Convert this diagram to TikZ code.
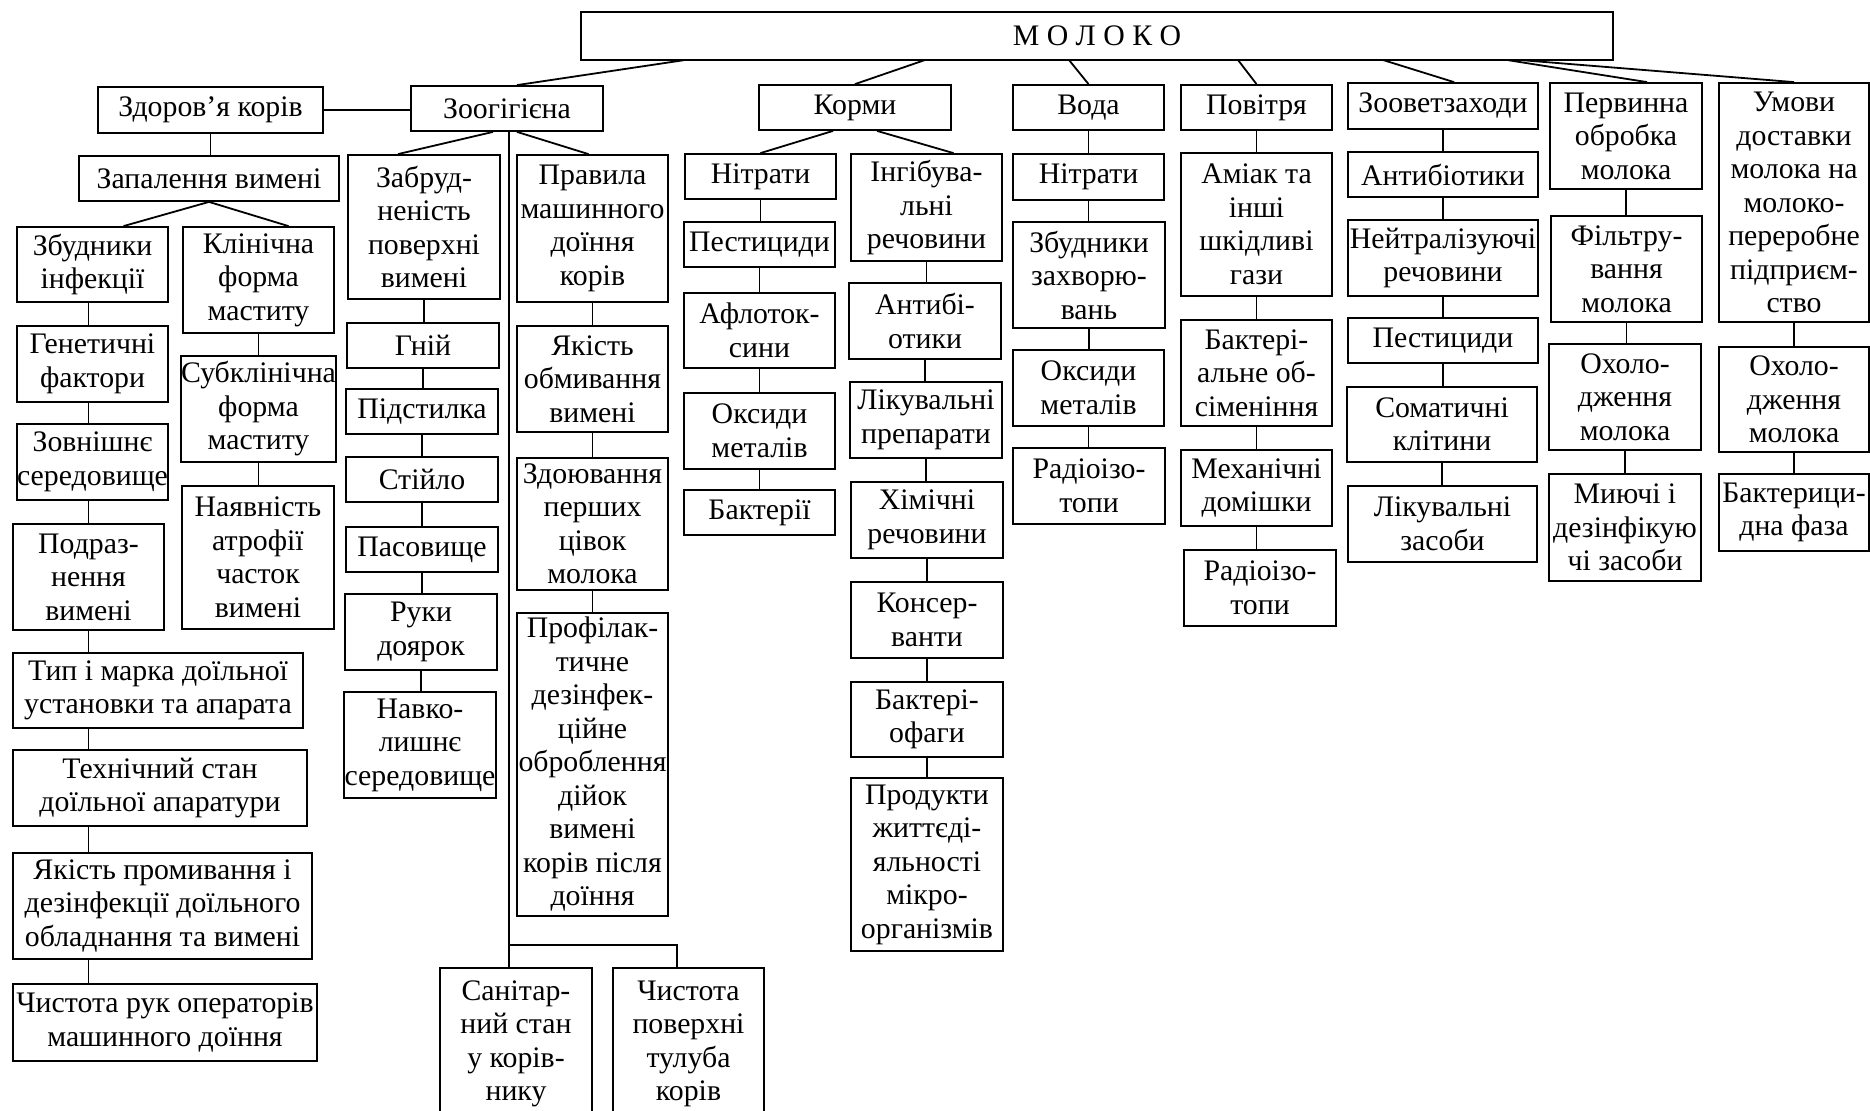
\documentclass[tikz,border=0pt]{standalone}
\usepackage{fontspec}
\setmainfont{Liberation Serif}
\usetikzlibrary{calc}

\tikzset{
  box/.style={draw, line width=0.9pt, align=center, inner sep=0pt,
    font=\fontsize{14.9}{16.75}\selectfont},
  link/.style={line width=0.9pt}
}
% box from its corners: name, x1, y1, x2, y2, text
\newcommand{\bx}[6]{\node[box, minimum width={(#4-#2)*0.5pt}, minimum height={(#5-#3)*0.5pt}] (#1) at ({(#2+#4)/2},{(#3+#5)/2}) {#6};}

\begin{document}
\begin{tikzpicture}[x=0.5pt, y=-0.5pt]
   \useasboundingbox (0,0) rectangle (1870,1110);
   % Root
   \bx{moloko}{581}{12}{1613}{60}{М О Л О К О}
   % First level
   \bx{zdorov}{98}{87}{323}{133}{Здоров’я корів}
   \bx{zoo}{411}{86}{603}{131}{Зоогігієна}
   \bx{kormy}{759}{85}{951}{130}{Корми}
   \bx{voda}{1013}{85}{1164}{130}{Вода}
   \bx{povitria}{1181}{85}{1332}{130}{Повітря}
   \bx{zoovet}{1348}{83}{1538}{129}{Зооветзаходи}
   \bx{pervyn}{1550}{83}{1702}{189}{Первинна\\обробка\\молока}
   \bx{umovy}{1719}{83}{1869}{322}{Умови\\доставки\\молока на\\молоко-\\переробне\\підприєм-\\ство}
   % Cows health
   \bx{zapal}{79}{156}{339}{201}{Запалення вимені}
   \bx{zbud}{17}{227}{168}{302}{Збудники\\інфекції}
   \bx{genet}{17}{326}{168}{402}{Генетичні\\фактори}
   \bx{zovn}{17}{424}{168}{500}{Зовнішнє\\середовище}
   \bx{podraz}{13}{524}{164}{630}{Подраз-\\нення\\вимені}
   \bx{typ}{13}{653}{303}{728}{Тип і марка доїльної\\установки та апарата}
   \bx{tekhn}{13}{750}{307}{826}{Технічний стан\\доїльної апаратури}
   \bx{yakprom}{13}{853}{312}{959}{Якість промивання і\\дезінфекції доїльного\\обладнання та вимені}
   \bx{chyst}{13}{984}{317}{1061}{Чистота рук операторів\\машинного доїння}
   \bx{klin}{183}{227}{334}{333}{Клінічна\\форма\\маститу}
   \bx{subklin}{183}{356}{334}{462}{Субклінічна\\форма\\маститу}
   \bx{nayavn}{182}{486}{334}{629}{Наявність\\атрофії\\часток\\вимені}
   % Zoohygiene
   \bx{zabrud}{348}{155}{500}{299}{Забруд-\\неність\\поверхні\\вимені}
   \bx{hnii}{347}{323}{499}{368}{Гній}
   \bx{pidst}{346}{389}{498}{434}{Підстилка}
   \bx{stiilo}{346}{457}{498}{502}{Стійло}
   \bx{pasov}{346}{527}{498}{572}{Пасовище}
   \bx{ruky}{345}{594}{497}{670}{Руки\\доярок}
   \bx{navk}{344}{692}{496}{798}{Навко-\\лишнє\\середовище}
   \bx{pravyla}{517}{155}{668}{302}{Правила\\машинного\\доїння\\корів}
   \bx{yakobm}{517}{326}{668}{432}{Якість\\обмивання\\вимені}
   \bx{zdoyuv}{517}{458}{668}{590}{Здоювання\\перших\\цівок\\молока}
   \bx{profil}{517}{613}{668}{916}{Профілак-\\тичне\\дезінфек-\\ційне\\оброблення\\дійок\\вимені\\корів після\\доїння}
   \bx{sanit}{440}{968}{592}{1120}{Санітар-\\ний стан\\у корів-\\нику}
   \bx{chystpov}{613}{968}{764}{1120}{Чистота\\поверхні\\тулуба\\корів}
   % Feed
   \bx{nitr1}{685}{154}{836}{199}{Нітрати}
   \bx{pest1}{684}{222}{835}{267}{Пестициди}
   \bx{aflot}{684}{293}{835}{368}{Афлоток-\\сини}
   \bx{oks1}{684}{393}{835}{469}{Оксиди\\металів}
   \bx{bakt1}{684}{490}{835}{535}{Бактерії}
   \bx{ingib}{851}{154}{1002}{261}{Інгібува-\\льні\\речовини}
   \bx{antyb1}{849}{283}{1001}{359}{Антибі-\\отики}
   \bx{likprep}{850}{382}{1002}{458}{Лікувальні\\препарати}
   \bx{khim}{851}{482}{1003}{558}{Хімічні\\речовини}
   \bx{kons}{851}{582}{1003}{658}{Консер-\\ванти}
   \bx{bakterf}{851}{682}{1003}{757}{Бактері-\\офаги}
   \bx{prod}{851}{778}{1003}{951}{Продукти\\життєді-\\яльності\\мікро-\\організмів}
   % Water
   \bx{nitr2}{1013}{154}{1164}{200}{Нітрати}
   \bx{zbudz}{1013}{222}{1165}{328}{Збудники\\захворю-\\вань}
   \bx{oks2}{1013}{350}{1164}{426}{Оксиди\\металів}
   \bx{radio2}{1013}{448}{1165}{524}{Радіоізо-\\топи}
   % Air
   \bx{amiak}{1181}{153}{1332}{296}{Аміак та\\інші\\шкідливі\\гази}
   \bx{bakteral}{1181}{320}{1332}{426}{Бактері-\\альне об-\\сіменіння}
   \bx{mekh}{1181}{450}{1332}{526}{Механічні\\домішки}
   \bx{radio3}{1184}{550}{1336}{626}{Радіоізо-\\топи}
   % Vet measures
   \bx{antyb2}{1348}{152}{1538}{197}{Антибіотики}
   \bx{neitr}{1348}{220}{1538}{296}{Нейтралізуючі\\речовини}
   \bx{pest2}{1348}{318}{1538}{363}{Пестициди}
   \bx{somat}{1347}{387}{1537}{462}{Соматичні\\клітини}
   \bx{likzas}{1348}{486}{1537}{562}{Лікувальні\\засоби}
   % Primary processing
   \bx{filtr}{1551}{216}{1702}{322}{Фільтру-\\вання\\молока}
   \bx{okhol1}{1549}{344}{1701}{450}{Охоло-\\дження\\молока}
   \bx{myuchi}{1549}{474}{1701}{581}{Миючі і\\дезінфікую\\чі засоби}
   % Delivery
   \bx{okhol2}{1719}{347}{1869}{452}{Охоло-\\дження\\молока}
   \bx{baktfaz}{1719}{474}{1869}{551}{Бактерици-\\дна фаза}

   % Connect root with first level
   \coordinate (m1) at (685,60);
   \coordinate (m2) at (925,60);
   \coordinate (m3) at (1069,60);
   \coordinate (m4) at (1238,60);
   \coordinate (m5) at (1383,60);
   \coordinate (m6) at (1507,60);
   \coordinate (m7) at (1520,60);
   \draw[link] (m1) -- ($(zoo.north)+(10,0)$);
   \draw[link] (m2) -- (kormy.north);
   \draw[link] (m3) -- (voda.north);
   \draw[link] (m4) -- (povitria.north);
   \draw[link] (m5) -- ($(zoovet.north)+(11,0)$);
   \draw[link] (m6) -- ($(pervyn.north)+(21,0)$);
   \draw[link] (m7) -- (umovy.north);
   \draw[link] (zdorov.east) -- (zdorov.east -| zoo.west);

   % Forks
   \draw[link] (zapal.south) -- ($(zbud.north)+(31,0)$);
   \draw[link] (zapal.south) -- ($(klin.north)+(30,0)$);
   \draw[link] ($(zoo.south)+(-14,0)$) -- ($(zabrud.north)+(-26,0)$);
   \draw[link] ($(zoo.south)+(10,0)$) -- ($(pravyla.north)+(-4,0)$);
   \draw[link] ($(kormy.south)+(-22,0)$) -- (nitr1.north);
   \draw[link] ($(kormy.south)+(22,0)$) -- ($(ingib.north)+(27,0)$);

   % Long line down from Зоогігієна
   \coordinate (fork) at (509,945);
   \coordinate (forkr) at (677,945);
   \draw[link] (zoo.south -| fork) -- (sanit.north -| fork);
   \draw[link] (fork) -- (forkr) -- (forkr |- chystpov.north);

   % Chains
   \foreach \a/\b in {zbud/genet, genet/zovn, zovn/podraz, podraz/typ, typ/tekhn, tekhn/yakprom, yakprom/chyst}
     \draw[link] (\a.south -| podraz.south) -- (\b.north -| podraz.south);
   \foreach \a/\b in {zdorov/zapal, klin/subklin, subklin/nayavn,
       zabrud/hnii, hnii/pidst, pidst/stiilo, stiilo/pasov, pasov/ruky, ruky/navk,
       pravyla/yakobm, yakobm/zdoyuv, zdoyuv/profil,
       nitr1/pest1, pest1/aflot, aflot/oks1, oks1/bakt1,
       ingib/antyb1, antyb1/likprep, likprep/khim, khim/kons, kons/bakterf, bakterf/prod,
       voda/nitr2, nitr2/zbudz, zbudz/oks2, oks2/radio2,
       povitria/amiak, amiak/bakteral, bakteral/mekh, mekh/radio3,
       zoovet/antyb2, antyb2/neitr, neitr/pest2, pest2/somat, somat/likzas,
       pervyn/filtr, filtr/okhol1, okhol1/myuchi,
       umovy/okhol2, okhol2/baktfaz}
     \draw[link] (\a.south) -- (\a.south |- \b.north);
\end{tikzpicture}
\end{document}
